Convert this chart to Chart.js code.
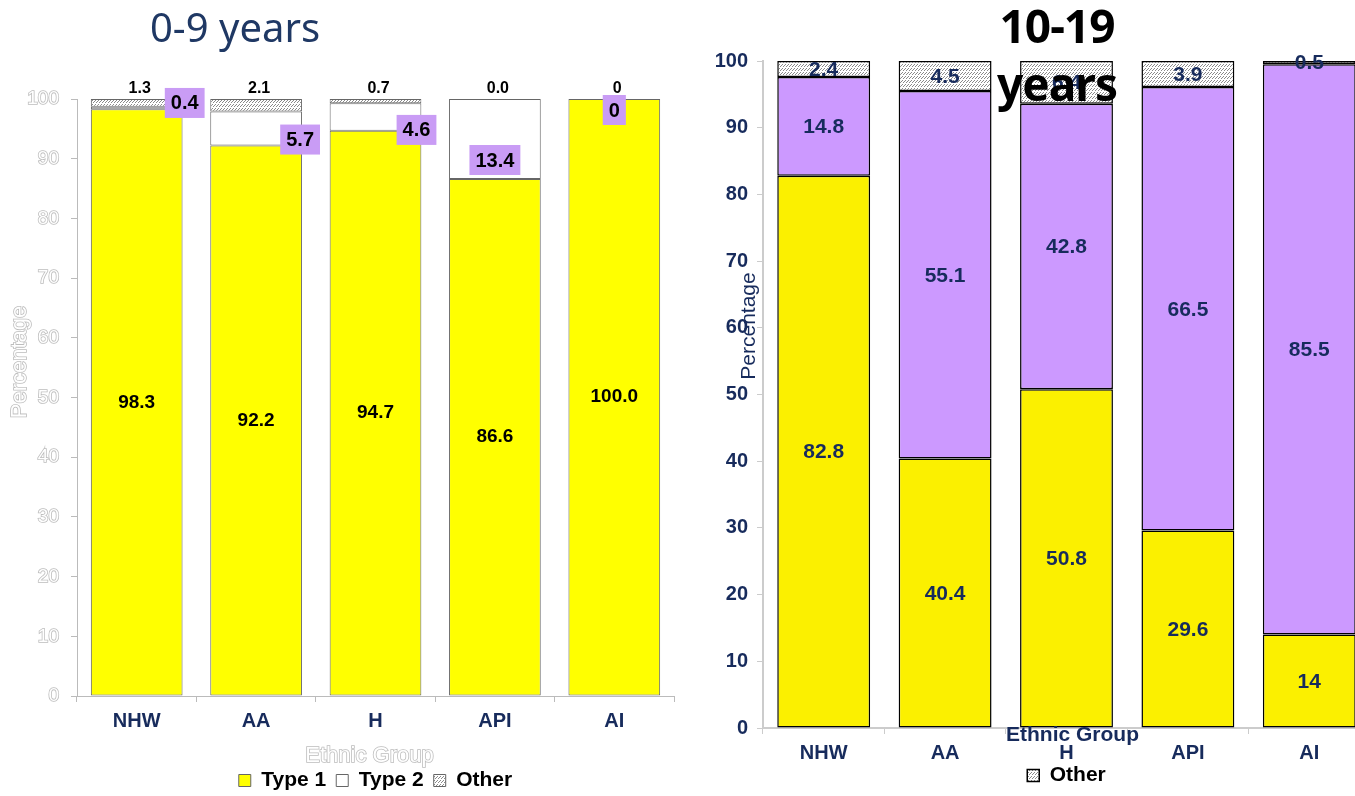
<!DOCTYPE html>
<html>
<head>
<meta charset="utf-8">
<script src="https://cdn.jsdelivr.net/npm/chart.js@4.4.1/dist/chart.umd.min.js"></script>
<style>
body{margin:0;width:1355px;height:796px;overflow:hidden;background:#fff;position:relative}
.box{position:absolute;top:0;width:690px;height:796px}
#youngBox{left:0}
#teenBox{left:690px}
.ttl{position:absolute;text-align:center;font-family:"Noto Sans",sans-serif;z-index:5}
#youngTitle{left:0;top:2px;width:470px;font-size:40px;line-height:50px;color:#1f3864}
#teenTitle{left:957px;top:-4px;width:200px;font-size:46px;line-height:58px;font-weight:bold;color:#000;letter-spacing:-1px}
</style>
</head>
<body>
<div class="box" id="youngBox"><canvas id="youngChart" width="690" height="796"></canvas></div>
<div class="box" id="teenBox"><canvas id="teenChart" width="690" height="796"></canvas></div>
<div class="ttl" id="youngTitle">0-9 years</div>
<div class="ttl" id="teenTitle">10-19<br>years</div>
<script>
// values as printed on the bars (percent of each ethnic group)
var groups = ['NHW', 'AA', 'H', 'API', 'AI'];

var type1Young = ['98.3', '92.2', '94.7', '86.6', '100.0'];
var type2Young = ['0.4', '5.7', '4.6', '13.4', '0'];
var otherYoung = ['1.3', '2.1', '0.7', '0.0', '0'];

var type1Teen = ['82.8', '40.4', '50.8', '29.6', '14'];
var type2Teen = ['14.8', '55.1', '42.8', '66.5', '85.5'];
var otherTeen = ['2.4', '4.5', '6.4', '3.9', '0.5'];

var NAVY = '#172b5c';
var SANS = '"Liberation Sans", Arial, sans-serif';

// nudges for the purple type 2 boxes (px from segment centre)
var boxNudge = [[48, -5], [44, 11], [41, 13], [0, 21], [0, 11]];

// rows of little "/" dashes on white, like the office hatch fill
function hatch() {
	var c = document.createElement('canvas');
	c.width = 3; c.height = 4;
	var g = c.getContext('2d');
	g.fillStyle = '#fff';
	g.fillRect(0, 0, 3, 4);
	g.fillStyle = '#8a8a8a';
	g.fillRect(2, 0, 1, 1);
	g.fillRect(1, 1, 1, 1);
	g.fillRect(0, 2, 1, 1);
	return g.createPattern(c, 'repeat');
}
var hatchFill = hatch();

function nums(a) { return a.map(Number); }
function mid(bar) { return (bar.y + bar.base) / 2; }

function outlined(ctx, text, x, y, rot) {
	ctx.save();
	ctx.translate(x, y);
	if (rot) ctx.rotate(-Math.PI / 2);
	ctx.lineWidth = 1.6;
	ctx.strokeStyle = '#bdbdbd';
	ctx.fillStyle = '#fff';
	ctx.strokeText(text, 0, 0);
	ctx.fillText(text, 0, 0);
	ctx.restore();
}

var youngLabels = {
	id: 'youngLabels',
	afterDatasetsDraw: function(chart) {
		var ctx = chart.ctx;
		ctx.save();
		ctx.textAlign = 'center';
		ctx.textBaseline = 'middle';
		ctx.font = 'bold 19px ' + SANS;
		ctx.fillStyle = '#000';
		chart.getDatasetMeta(0).data.forEach(function(bar, i) {
			ctx.fillText(type1Young[i], bar.x, mid(bar));
		});
		ctx.font = 'bold 20px ' + SANS;
		chart.getDatasetMeta(1).data.forEach(function(bar, i) {
			var t = type2Young[i];
			var w = ctx.measureText(t).width + 12, h = 30;
			var cx = bar.x + boxNudge[i][0], cy = mid(bar) + boxNudge[i][1];
			ctx.fillStyle = '#c99cf5';
			ctx.fillRect(cx - w / 2, cy - h / 2, w, h);
			ctx.fillStyle = '#000';
			ctx.fillText(t, cx, cy + 1);
		});
		ctx.font = 'bold 16px ' + SANS;
		chart.getDatasetMeta(2).data.forEach(function(bar, i) {
			ctx.fillText(otherYoung[i], bar.x + 3, bar.y - 10);
		});
		ctx.restore();
	},
	afterDraw: function(chart) {
		var ctx = chart.ctx, a = chart.chartArea;
		ctx.save();
		ctx.textAlign = 'center';
		ctx.textBaseline = 'middle';
		ctx.font = '22px ' + SANS;
		outlined(ctx, 'Percentage', 20, 362, true);
		outlined(ctx, 'Ethnic Group', (a.left + a.right) / 2 - 6, 756, false);
		ctx.restore();
	}
};

var teenLabels = {
	id: 'teenLabels',
	afterDatasetsDraw: function(chart) {
		var ctx = chart.ctx;
		var sets = [type1Teen, type2Teen, otherTeen];
		ctx.save();
		ctx.textAlign = 'center';
		ctx.textBaseline = 'middle';
		ctx.font = 'bold 21px ' + SANS;
		ctx.fillStyle = NAVY;
		sets.forEach(function(s, k) {
			chart.getDatasetMeta(k).data.forEach(function(bar, i) {
				ctx.fillText(s[i], bar.x, mid(bar) + 1);
			});
		});
		ctx.restore();
	},
	afterDraw: function(chart) {
		var ctx = chart.ctx, a = chart.chartArea;
		ctx.save();
		ctx.textAlign = 'center';
		ctx.textBaseline = 'middle';
		ctx.fillStyle = NAVY;
		ctx.font = 'bold 21px ' + SANS;
		ctx.fillText('Ethnic Group', (a.left + a.right) / 2 + 6, 735);
		ctx.translate(59, 326);
		ctx.rotate(-Math.PI / 2);
		ctx.font = '21px ' + SANS;
		ctx.fillText('Percentage', 0, 0);
		ctx.restore();
	}
};

function drawStack(ctx, o) {
	return new Chart(ctx, {
		type: 'bar',
		data: {
			labels: groups,
			datasets: [
				{ label: 'Type 1', data: nums(o.t1), backgroundColor: o.yellow },
				{ label: 'Type 2', data: nums(o.t2), backgroundColor: o.t2Color },
				{ label: 'Other', data: nums(o.other), backgroundColor: hatchFill }
			].map(function(d) {
				d.borderColor = o.edge;
				d.borderWidth = o.edgeWidth;
				d.borderSkipped = false;
				d.barPercentage = o.barPct;
				d.categoryPercentage = 1;
				return d;
			})
		},
		options: {
			responsive: false,
			animation: false,
			layout: { padding: o.pad },
			scales: {
				x: {
					stacked: true,
					grid: { offset: true, drawOnChartArea: false, tickLength: 6, color: o.axis },
					border: { color: o.axis, width: o.axisWidth },
					ticks: { color: NAVY, font: { family: SANS, size: 20, weight: 'bold' }, padding: 7 },
					afterFit: function(s) { s.height = o.xHeight; }
				},
				y: {
					stacked: true,
					min: 0, max: 100,
					grid: { drawOnChartArea: false, tickLength: 6, color: o.axis },
					border: { color: o.axis, width: o.axisWidth },
					ticks: o.yTicks,
					afterFit: function(s) { s.width = o.yWidth; }
				}
			},
			plugins: {
				tooltip: { enabled: false },
				legend: {
					position: 'bottom',
					fullSize: false,
					maxHeight: o.legendHeight,
					labels: {
						color: '#000',
						font: { family: SANS, size: 21, weight: 'bold' },
						boxWidth: 12, boxHeight: 12, padding: o.legendPad,
						filter: o.legendFilter
					}
				}
			}
		},
		plugins: [o.labels]
	});
}

drawStack(document.getElementById('youngChart'), {
	t1: type1Young, t2: type2Young, other: otherYoung,
	yellow: '#ffff00', t2Color: '#ffffff',
	edge: '#666', edgeWidth: 1, barPct: 0.768,
	axis: '#bbbbbb', axisWidth: 1,
	pad: { top: 99, right: 16, left: 0, bottom: 0 },
	xHeight: 64, yWidth: 77, legendHeight: 36, legendPad: 10,
	yTicks: {
		stepSize: 10, padding: 12, color: '#fff',
		textStrokeColor: '#bdbdbd', textStrokeWidth: 1.6,
		font: { family: SANS, size: 19 }
	},
	labels: youngLabels
});

drawStack(document.getElementById('teenChart'), {
	t1: type1Teen, t2: type2Teen, other: otherTeen,
	yellow: '#fbf000', t2Color: '#cc99ff',
	edge: '#000', edgeWidth: 1.5, barPct: 0.765,
	axis: '#cccccc', axisWidth: 2,
	pad: { top: 61, right: 10, left: 0, bottom: 4 },
	xHeight: 34, yWidth: 73, legendHeight: 30, legendPad: 3,
	yTicks: {
		stepSize: 10, padding: 9, color: NAVY,
		font: { family: SANS, size: 20, weight: 'bold' }
	},
	legendFilter: function(item) { return item.text === 'Other'; },
	labels: teenLabels
});
</script>
</body>
</html>
